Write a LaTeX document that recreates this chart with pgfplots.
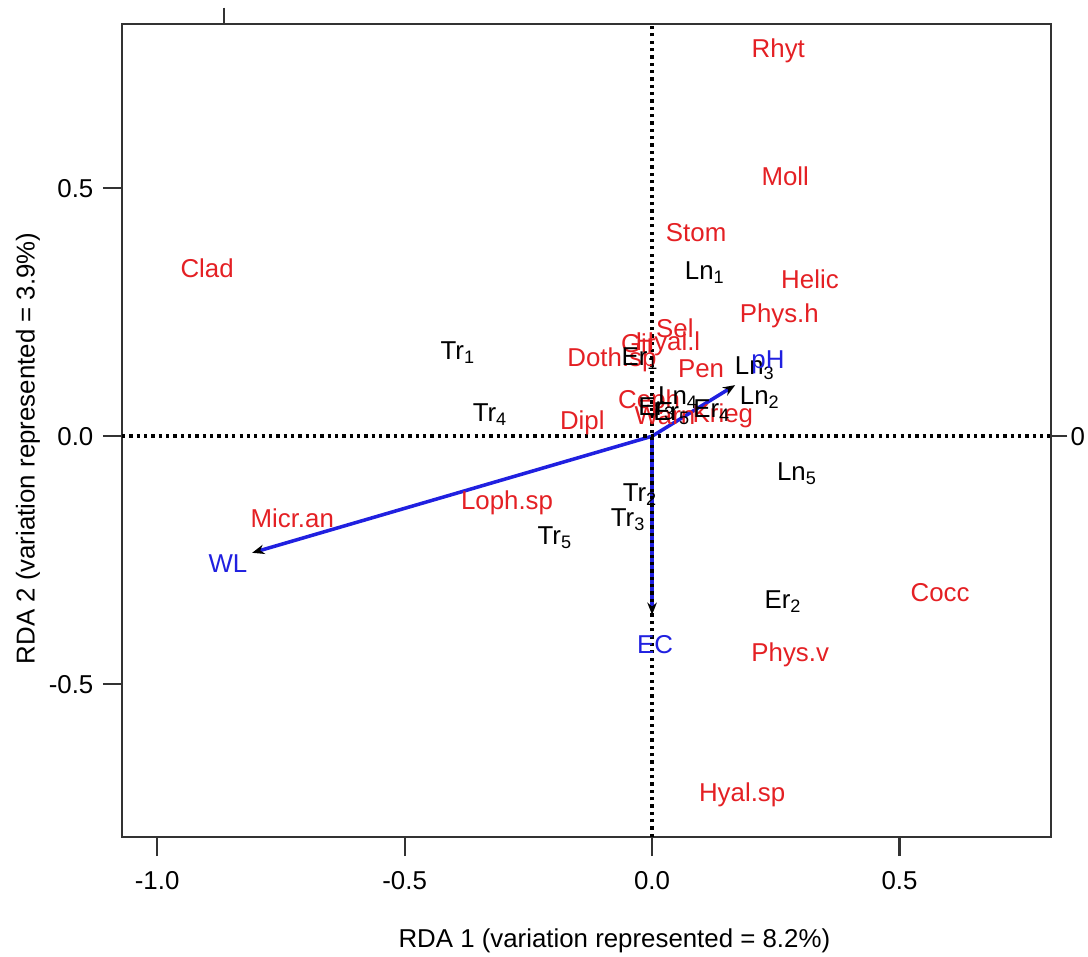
\documentclass[border=0pt]{standalone}
\usepackage{pgfplots}
\pgfplotsset{compat=1.18}
\usepackage{pgfplotstable}
\usepackage{fontspec}
\setmainfont{Liberation Sans}
\usetikzlibrary{arrows.meta}

\definecolor{spred}{RGB}{228,32,36}
\definecolor{envblue}{RGB}{32,32,224}

% species scores (red)
\pgfplotstableread{
x y lab
0.255 0.777 Rhyt
0.269 0.523 Moll
0.089 0.410 Stom
0.319 0.316 Helic
0.257 0.243 Phys.h
-0.899 0.338 Clad
0.046 0.217 Sel
-0.028 0.187 Gir
0.032 0.187 Hyal.l
-0.081 0.153 Doth.sp
0.099 0.137 Pen
-0.006 0.070 Ceph
0.026 0.042 Warn
0.143 0.042 Krieg
-0.141 0.028 Dipl
-0.293 -0.135 Loph.sp
-0.727 -0.165 Micr.an
0.582 -0.316 Cocc
0.279 -0.441 Phys.v
0.182 -0.722 Hyal.sp
}\species

% site scores (black)
\pgfplotstableread{
x y lab
0.107 0.330 Ln\textsubscript{1}
-0.392 0.169 Tr\textsubscript{1}
-0.024 0.157 Er\textsubscript{1}
0.208 0.137 Ln\textsubscript{3}
0.218 0.078 Ln\textsubscript{2}
0.053 0.078 Ln\textsubscript{4}
0.010 0.055 Er\textsubscript{3}
0.040 0.045 Er\textsubscript{5}
0.121 0.052 Er\textsubscript{4}
-0.327 0.044 Tr\textsubscript{4}
0.293 -0.076 Ln\textsubscript{5}
-0.024 -0.117 Tr\textsubscript{2}
-0.048 -0.169 Tr\textsubscript{3}
-0.196 -0.205 Tr\textsubscript{5}
0.265 -0.334 Er\textsubscript{2}
}\sites

% environmental variables (blue)
\pgfplotstableread{
x y lab
0.234 0.149 pH
-0.857 -0.256 WL
0.006 -0.421 EC
}\env

\begin{document}
\begin{tikzpicture}[font=\fontsize{9.5}{11}\selectfont]
\pgfplotsset{
  rdabox/.style={
    width=341.5pt, height=298.9pt, scale only axis,
    xmin=-1.071, xmax=0.806, ymin=-0.808, ymax=0.831,
    axis line style={draw=black!80, line width=0.8pt},
    tick style={black!80, line width=0.8pt},
    tick align=outside,
    /pgf/number format/assume math mode=true,
  },
}
\begin{axis}[rdabox, name=ax,
  major tick length=7pt,
  xtick={-1,-0.5,0,0.5}, xticklabels={-1.0,-0.5,0.0,0.5},
  ytick={-0.5,0,0.5}, yticklabels={-0.5,0.0,0.5},
  xtick pos=bottom, ytick pos=left,
  xticklabel style={yshift=-2pt},
  xlabel={RDA 1 (variation represented = 8.2\%)},
  ylabel={RDA 2 (variation represented = 3.9\%)},
  xlabel style={at={(axis description cs:0.53,0)}, anchor=center, yshift=-38pt},
  ylabel style={at={(axis description cs:0,0.478)}, anchor=center, yshift=34.6pt},
  every node near coord/.style={anchor=center, inner sep=0pt},
  clip=false,
]
\addplot[draw=none, nodes near coords, point meta=explicit symbolic,
  every node near coord/.append style={text=spred}] table[meta=lab] {\species};
\addplot[draw=none, nodes near coords, point meta=explicit symbolic,
  every node near coord/.append style={text=black}] table[meta=lab] {\sites};
\addplot[draw=none, nodes near coords, point meta=explicit symbolic,
  every node near coord/.append style={text=envblue}] table[meta=lab] {\env};
% arrows
\addplot[envblue, line width=1.3pt, -{Stealth[black, length=4.5pt, width=3.5pt]}] coordinates {(0,0) (0.168,0.103)};
\addplot[envblue, line width=1.3pt, -{Stealth[black, length=4.5pt, width=3.5pt]}] coordinates {(0,0) (-0.808,-0.235)};
\addplot[envblue, line width=1.3pt, -{Stealth[black, length=4.5pt, width=3.5pt]}] coordinates {(0,0) (0,-0.360)};
% zero lines
\addplot[black, line width=1.3pt, dash pattern=on 1.2pt off 1.5pt] coordinates {(0,-0.808) (0,0.831)};
\addplot[black, line width=1.3pt, dash pattern=on 1.2pt off 1.5pt] coordinates {(-1.071,0) (0.806,0)};
\end{axis}
\begin{axis}[rdabox,
  axis x line*=top, axis y line*=right,
  major tick length=6pt,
  xtick={-0.865}, xticklabels={},
  ytick={0}, yticklabels={0},
  yticklabel style={inner sep=1pt},
]
\addplot[draw=none] coordinates {(0,0)};
\end{axis}
\pgfresetboundingbox
\useasboundingbox (ax.south west) ++(-44.85pt,-43.75pt) rectangle ([shift={(13.6pt,8.8pt)}]ax.north east);
\end{tikzpicture}
\end{document}
